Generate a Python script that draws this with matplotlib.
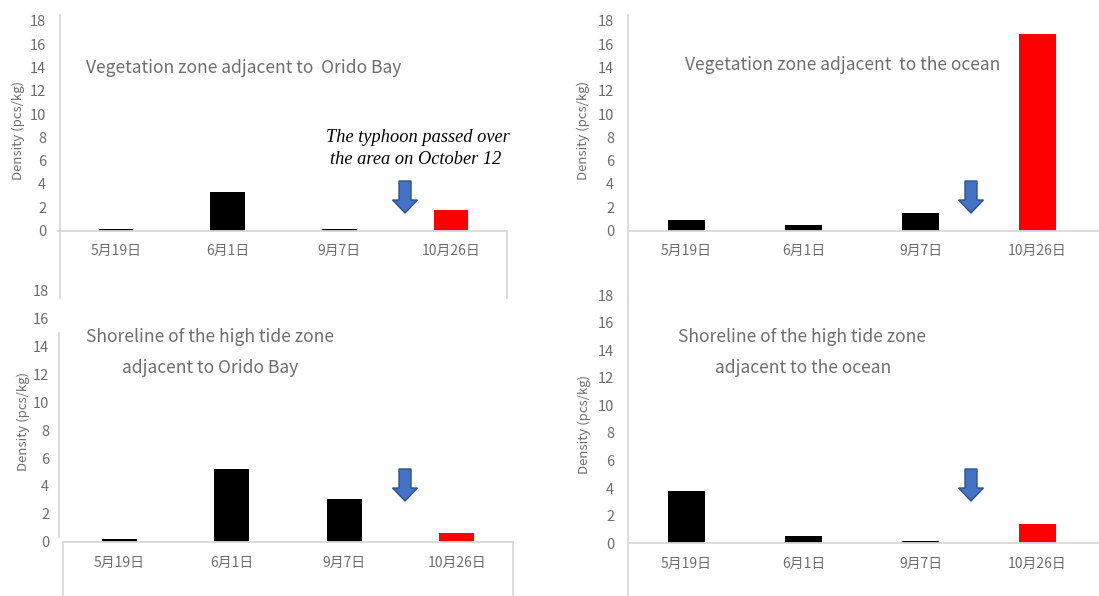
import matplotlib
matplotlib.use("Agg")
import matplotlib.pyplot as plt
import matplotlib.transforms as mtransforms
from matplotlib.lines import Line2D
from matplotlib.patches import Polygon

plt.rcParams['font.family'] = ['Noto Sans CJK JP', 'DejaVu Sans']

dates = ['5月19日', '6月1日', '9月7日', '10月26日']
veg_bay = [0.15, 3.3, 0.15, 1.8]
veg_ocean = [0.9, 0.5, 1.5, 16.9]
shore_bay = [0.2, 5.2, 3.1, 0.6]
shore_ocean = [3.8, 0.5, 0.2, 1.4]
bar_colors = ['black', 'black', 'black', 'red']

W, H = 1099, 596
GRAY = '#6e6e6e'
LINE = '#d9d9d9'

fig = plt.figure(figsize=(W / 100, H / 100), dpi=100)
# pixel coords (y down) -> figure
pix = mtransforms.Affine2D().scale(1 / W, -1 / H).translate(0, 1) + fig.transFigure


def panel(values, left, right, y0, y18, ylab_x):
    ax = fig.add_axes([left / W, 1 - y0 / H, (right - left) / W, (y0 - y18) / H])
    ax.bar(range(len(dates)), values, width=0.31, color=bar_colors)
    ax.set_xlim(-0.5, 3.5)
    ax.set_ylim(0, 18)
    ax.set_yticks(range(0, 19, 2))
    ax.set_xticks(range(len(dates)))
    ax.set_xticklabels(dates)
    ax.tick_params(axis='y', length=0, pad=10, labelsize=10.5, labelcolor=GRAY)
    ax.tick_params(axis='x', length=0, pad=10, labelsize=10, labelcolor=GRAY)
    for s in ax.spines.values():
        s.set_visible(False)
    ax.patch.set_alpha(0)
    fig.text(ylab_x, (y0 + y18) / 2 + 5, 'Density (pcs/kg)', transform=pix, rotation=90,
             ha='center', va='center', fontsize=9.5, color=GRAY)
    return ax


def gline(x1, y1, x2, y2):
    fig.add_artist(Line2D([x1, x2], [y1, y2], transform=pix, color=LINE, lw=1.3))


def down_arrow(cx, top):
    pts = [(cx - 6, top), (cx + 6, top), (cx + 6, top + 19), (cx + 12.5, top + 19),
           (cx, top + 32), (cx - 12.5, top + 19), (cx - 6, top + 19)]
    fig.add_artist(Polygon(pts, closed=True, transform=pix, facecolor='#4472C4',
                           edgecolor='#2F528F', lw=1))


# frame lines
gline(60, 15, 60, 298)
gline(58, 231, 507, 231)
gline(507, 231, 507, 298)
gline(628, 15, 628, 300)
gline(628, 231, 1099, 231)
gline(59, 333, 59, 537)
gline(63, 542, 513, 542)
gline(63, 542, 63, 596)
gline(513, 542, 513, 596)
gline(628, 298, 628, 596)
gline(628, 543, 1099, 543)

panel(veg_bay, 60, 507, 230.5, 21, 18)
panel(veg_ocean, 628, 1096, 230.5, 21, 583)
panel(shore_bay, 63, 513, 541.7, 291, 23)
panel(shore_ocean, 628, 1096, 543.3, 295, 584)

tkw = dict(transform=pix, fontsize=12.6, color=GRAY, va='center')
fig.text(86, 68, 'Vegetation zone adjacent to  Orido Bay', ha='left', **tkw)
fig.text(685, 65, 'Vegetation zone adjacent  to the ocean', ha='left', **tkw)
fig.text(210, 337, 'Shoreline of the high tide zone', ha='center', **tkw)
fig.text(210, 368, 'adjacent to Orido Bay', ha='center', **tkw)
fig.text(802, 337, 'Shoreline of the high tide zone', ha='center', **tkw)
fig.text(803, 368, 'adjacent to the ocean', ha='center', **tkw)

fig.text(418, 138, 'The typhoon passed over', transform=pix, ha='center', va='center',
         family='Liberation Serif', style='italic', fontsize=13.2, color='black')
fig.text(416, 159, 'the area on October 12', transform=pix, ha='center', va='center',
         family='Liberation Serif', style='italic', fontsize=13.2, color='black')

down_arrow(405, 181)
down_arrow(971, 181)
down_arrow(405, 469)
down_arrow(971, 469)

fig.savefig('out.png', dpi=100)
